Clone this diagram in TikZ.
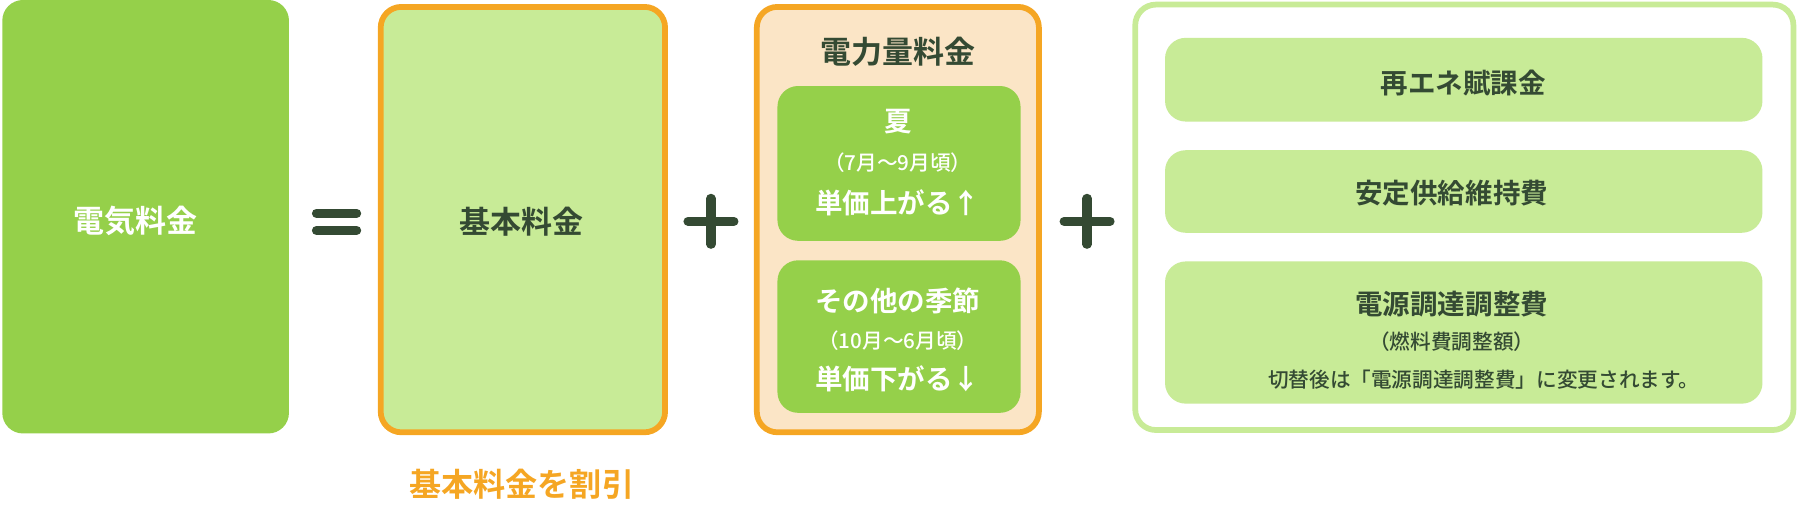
\documentclass[tikz,border=0pt]{standalone}
\usepackage{fontspec}
\setmainfont{Noto Sans CJK JP}[BoldFont={* Bold}]
\newfontfamily\jpb{Noto Sans CJK JP Bold}
\newfontfamily\jpm{Noto Sans CJK JP Medium}
\definecolor{dg}{HTML}{95D04A}
\definecolor{lg}{HTML}{C8EB97}
\definecolor{org}{HTML}{F5A623}
\definecolor{peach}{HTML}{FBE5C6}
\definecolor{ink}{HTML}{344A33}
\tikzset{
  box/.style={rounded corners=18pt},
  big/.style={font=\jpb\fontsize{27}{30}\selectfont},
  mid/.style={font=\jpb\fontsize{24}{28}\selectfont},
  small/.style={font=\jpm\fontsize{18}{22}\selectfont},
  bar/.style={line width=8pt,line cap=round,ink},
}
\begin{document}
\begin{tikzpicture}[x=1pt,y=-1pt]
\useasboundingbox (0,0) rectangle (1568,440);
% box 1
\fill[dg,box] (2,0) rectangle (252,378);
\node[big,white] (t1) at (118,193) {電気料金};
% equals
\coordinate (e1) at (276,186); \coordinate (e2) at (311,186);
\coordinate (e3) at (276,201); \coordinate (e4) at (311,201);
\draw[bar] (e1) -- (e2); \draw[bar] (e3) -- (e4);
% box 2
\draw[lg,box,fill=lg] (332,6) rectangle (580,377);
\draw[org,line width=5pt,box] (332,6) rectangle (580,377);
\node[big,ink] (t2) at (455,193) {基本料金};
\node[font=\jpb\fontsize{28}{32}\selectfont,org] (t2b) at (455,422) {基本料金を割引};
% plus 1
\coordinate (p1a) at (600,193); \coordinate (p1b) at (640,193);
\coordinate (p1c) at (620,173); \coordinate (p1d) at (620,213);
\draw[bar] (p1a) -- (p1b); \draw[bar] (p1c) -- (p1d);
% box 3
\draw[org,line width=5pt,box,fill=peach] (660,6) rectangle (906,377);
\node[big,ink] (t3) at (783,45) {電力量料金};
\fill[dg,box] (678,75) rectangle (890,210);
\node[mid,white] (s1) at (783,106) {夏};
\node[small,white] (s1b) at (783,142) {（7月～9月頃）};
\node[mid,white] (s1c) at (783,177) {単価上がる↑};
\fill[dg,box] (678,227) rectangle (890,360);
\node[mid,white] (s2) at (783,262) {その他の季節};
\node[small,white] (s2b) at (783,297) {（10月～6月頃）};
\node[mid,white] (s2c) at (783,330) {単価下がる↓};
% plus 2
\coordinate (p2a) at (928,193); \coordinate (p2b) at (968,193);
\coordinate (p2c) at (948,173); \coordinate (p2d) at (948,213);
\draw[bar] (p2a) -- (p2b); \draw[bar] (p2c) -- (p2d);
% box 4
\draw[lg,line width=5pt,box,fill=white] (990,4) rectangle (1564,375);
\fill[lg,box] (1016,33) rectangle (1537,106);
\node[mid,ink] (r1) at (1276,72) {再エネ賦課金};
\fill[lg,box] (1016,131) rectangle (1537,203);
\node[mid,ink] (r2) at (1266,168) {安定供給維持費};
\fill[lg,box] (1016,228) rectangle (1537,352);
\node[mid,ink] (r3) at (1266,265) {電源調達調整費};
\node[small,ink] (r3b) at (1266,298) {（燃料費調整額）};
\node[small,ink] (r3c) at (1294,331) {切替後は「電源調達調整費」に変更されます。};
\end{tikzpicture}
\end{document}
